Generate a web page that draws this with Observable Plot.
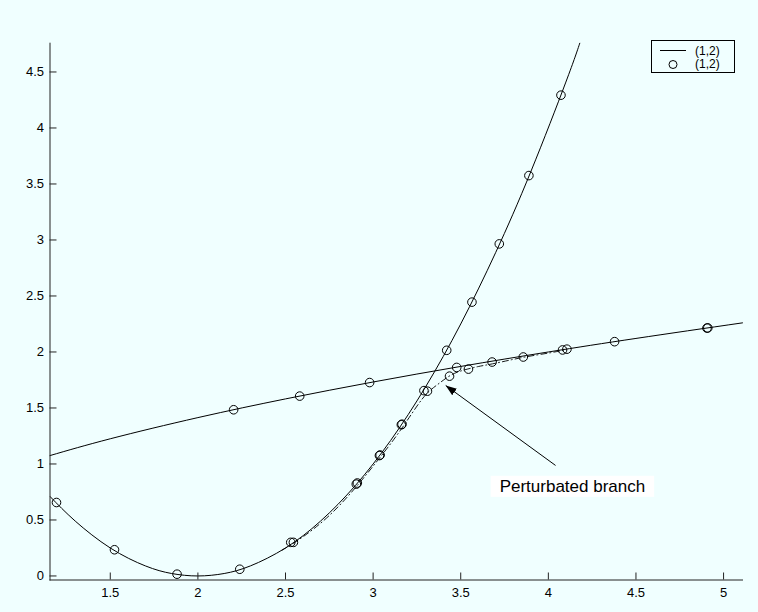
<!DOCTYPE html>
<html><head><meta charset="utf-8">
<script src="https://cdn.jsdelivr.net/npm/d3@7"></script>
<script src="https://cdn.jsdelivr.net/npm/@observablehq/plot@0.6"></script>
<style>
html,body{margin:0;padding:0;background:#f0ffff;}
#wrap{position:relative;width:758px;height:612px;overflow:hidden;}
#legend{position:absolute;left:651px;top:40px;width:84px;height:33px;border:1px solid #000;background:#f0ffff;font:12px "Liberation Sans",Arial,sans-serif;color:#000;box-sizing:border-box;}
.row{position:absolute;left:0;height:13px;width:82px;}
.row svg{position:absolute;left:0;top:0;}
.row span{position:absolute;left:43px;top:0.5px;line-height:12px;}
</style></head><body><div id="wrap"><div id="legend"></div></div>
<script>
// axis limits and ticks
const xDomain = [1.156, 5.108];
const yDomain = [-0.036, 4.757];
const xTicks = [1.5, 2, 2.5, 3, 3.5, 4, 4.5, 5];
const yTicks = [0, 0.5, 1, 1.5, 2, 2.5, 3, 3.5, 4, 4.5];

// first branch (parabola-like curve)
const branch1X = [1.156, 1.3, 1.5, 1.7, 1.85, 2.0, 2.15, 2.3, 2.5, 2.7, 2.9, 3.1, 3.3, 3.5, 3.7, 3.9, 4.1, 4.18];
const branch1Y = [0.71, 0.49, 0.25, 0.09, 0.022, 0.0, 0.022, 0.09, 0.25, 0.49, 0.81, 1.21, 1.69, 2.25, 2.89, 3.61, 4.41, 4.76];

// second branch (slowly rising curve)
const branch2X = [1.156, 1.5, 2.0, 2.5, 3.0, 3.5, 4.0, 4.5, 5.108];
const branch2Y = [1.075, 1.225, 1.414, 1.581, 1.732, 1.871, 2.0, 2.121, 2.26];

// perturbated branch (dash-dot)
const pertX = [2.48, 2.6, 2.75, 2.9, 3.03, 3.16, 3.28, 3.36, 3.43, 3.5, 3.6, 3.7, 3.85, 4.0, 4.1];
const pertY = [0.23, 0.35, 0.54, 0.79, 1.04, 1.31, 1.58, 1.70, 1.78, 1.83, 1.87, 1.90, 1.95, 1.99, 2.02];

// circle markers
const circX = [1.193, 1.524, 1.881, 2.239, 2.53, 2.545, 2.904, 2.91, 3.036, 3.04, 3.161, 3.165, 3.29, 3.31, 3.42, 3.564, 3.72, 3.889, 4.072,
               3.436, 3.544,
               2.204, 2.581, 2.98, 3.477, 3.679, 3.857, 4.081, 4.106, 4.378, 4.905, 4.91];
const circY = [0.656, 0.234, 0.016, 0.06, 0.30, 0.30, 0.82, 0.83, 1.075, 1.08, 1.35, 1.355, 1.655, 1.65, 2.015, 2.445, 2.965, 3.575, 4.293,
               1.784, 1.847,
               1.484, 1.606, 1.727, 1.862, 1.91, 1.955, 2.018, 2.025, 2.092, 2.213, 2.215];

// annotation
const annotText = ["Perturbated branch"];
const annotPos = [3.722, 0.80];
const arrowFrom = [4.041, 0.987];
const arrowTo = [3.414, 1.701];
const legendLabels = ["(1,2)", "(1,2)"];

const zip = (xs, ys) => xs.map((x, i) => ({x, y: ys[i]}));
const b1 = zip(branch1X, branch1Y);
const b2 = zip(branch2X, branch2Y);
const pb = zip(pertX, pertY);
const circles = zip(circX, circY);

const W = 758, H = 612;
const mL = 49.5, mR = 16, mT = 42.7, mB = 32.5;
const frameW = W - mL - mR, frameH = H - mT - mB;
const tick = 7;

const chart = Plot.plot({
  width: W, height: H,
  marginLeft: mL, marginRight: mR, marginTop: mT, marginBottom: mB,
  style: {background: "#f0ffff", fontFamily: "'Liberation Sans', Arial, sans-serif", fontSize: "13px", color: "#000"},
  x: {domain: xDomain, label: null},
  y: {domain: yDomain, label: null},
  marks: [
    Plot.line(b2, {x: "x", y: "y", curve: "natural", stroke: "#000", strokeWidth: 1}),
    Plot.line(b1, {x: "x", y: "y", curve: "natural", stroke: "#000", strokeWidth: 1, clip: true}),
    Plot.line(pb, {x: "x", y: "y", curve: "natural", stroke: "#000", strokeWidth: 0.9, strokeDasharray: "6,3,1,3"}),
    Plot.dot(circles, {x: "x", y: "y", r: 4.3, stroke: "#000", fill: "none", strokeWidth: 1}),
    Plot.link([0], {x1: () => arrowFrom[0], y1: () => arrowFrom[1], x2: () => arrowTo[0], y2: () => arrowTo[1], stroke: "#000", strokeWidth: 1, className: "arrowlink"}),
    Plot.text(annotText, {x: () => annotPos[0], y: () => annotPos[1], text: d => d, textAnchor: "start", lineAnchor: "middle", fontSize: 17, fill: "#000", className: "annot"}),
    Plot.ruleX(xTicks, {x: d => d, insetTop: frameH - tick, stroke: "#222"}),
    Plot.ruleY(yTicks, {y: d => d, insetRight: frameW - tick, stroke: "#222"}),
    Plot.frame({anchor: "left", stroke: "#222"}),
    Plot.frame({anchor: "bottom", stroke: "#222"}),
    Plot.axisX({ticks: xTicks, tickSize: 0, tickPadding: 8, tickFormat: d => String(d), fontSize: 13, label: null}),
    Plot.axisY({ticks: yTicks, tickSize: 0, tickPadding: 6, tickFormat: d => String(d), fontSize: 13, label: null})
  ]
});

const wrap = document.getElementById("wrap");
wrap.insertBefore(chart, wrap.firstChild);

const ns = "http://www.w3.org/2000/svg";

// filled arrow head marker
const defs = document.createElementNS(ns, "defs");
const mk = document.createElementNS(ns, "marker");
mk.setAttribute("id", "filledArrow");
mk.setAttribute("viewBox", "0 -5 10 10");
mk.setAttribute("refX", "10"); mk.setAttribute("refY", "0");
mk.setAttribute("markerUnits", "userSpaceOnUse");
mk.setAttribute("markerWidth", "11"); mk.setAttribute("markerHeight", "11");
mk.setAttribute("orient", "auto");
const mp = document.createElementNS(ns, "path");
mp.setAttribute("d", "M0,-3.6L10,0L0,3.6Z");
mp.setAttribute("fill", "#000");
mk.appendChild(mp); defs.appendChild(mk);
chart.insertBefore(defs, chart.firstChild);
chart.querySelectorAll("g.arrowlink path, g.arrowlink line").forEach(p => p.setAttribute("marker-end", "url(#filledArrow)"));

// white box behind annotation text
const tg = chart.querySelector("g.annot");
if (tg) {
  const t = tg.querySelector("text");
  const bb = t.getBBox();
  const r = document.createElementNS(ns, "rect");
  r.setAttribute("x", bb.x - 9);
  r.setAttribute("y", bb.y - 1);
  r.setAttribute("width", bb.width + 18);
  r.setAttribute("height", bb.height + 2);
  r.setAttribute("fill", "#ffffff");
  const tr = t.getAttribute("transform");
  if (tr) r.setAttribute("transform", tr);
  t.parentNode.insertBefore(r, t);
}

// legend
const lg = document.getElementById("legend");
legendLabels.forEach((lab, i) => {
  const row = document.createElement("div");
  row.className = "row";
  row.style.top = (3 + i * 13.5) + "px";
  const s = document.createElementNS(ns, "svg");
  s.setAttribute("width", 40); s.setAttribute("height", 13);
  if (i === 0) {
    const l = document.createElementNS(ns, "line");
    l.setAttribute("x1", 8); l.setAttribute("x2", 34); l.setAttribute("y1", 6.5); l.setAttribute("y2", 6.5);
    l.setAttribute("stroke", "#000");
    s.appendChild(l);
  } else {
    const c = document.createElementNS(ns, "circle");
    c.setAttribute("cx", 21); c.setAttribute("cy", 6.5); c.setAttribute("r", 4); c.setAttribute("fill", "none"); c.setAttribute("stroke", "#000");
    s.appendChild(c);
  }
  row.appendChild(s);
  const sp = document.createElement("span");
  sp.textContent = lab;
  row.appendChild(sp);
  lg.appendChild(row);
});
</script></body></html>
